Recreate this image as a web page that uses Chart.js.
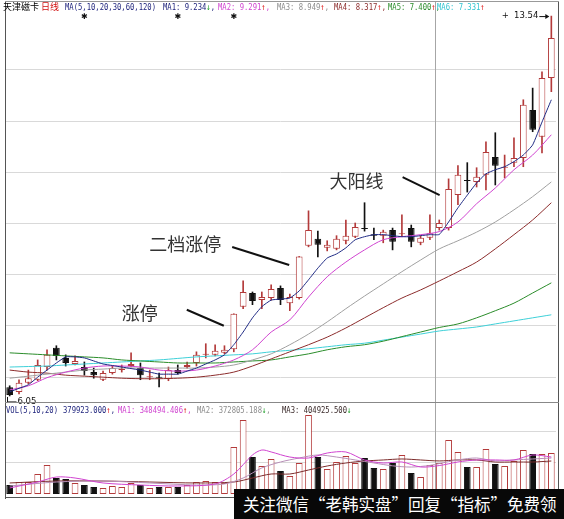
<!DOCTYPE html>
<html>
<head>
<meta charset="utf-8">
<script src="https://cdn.jsdelivr.net/npm/chart.js@4.4.1/dist/chart.umd.min.js"></script>
<style>
  html, body { margin: 0; padding: 0; background: #fff; }
  #wrap { position: relative; width: 564px; height: 519px; overflow: hidden; background: #fff; }
  canvas { position: absolute; left: 5px; }
  #main { top: 0; width: 554px; height: 408px; }
  #vol { top: 402px; width: 554px; height: 98px; }
  .ln { position: absolute; background: #555; }
  .hd { position: absolute; font: 9px "DejaVu Sans Mono", monospace; line-height: 9px;
        white-space: nowrap; transform: scaleX(0.8); transform-origin: 0 0; }
  .cj { position: absolute; font: 9px "Noto Sans CJK SC", sans-serif; line-height: 10px; white-space: nowrap; }
  #wm { position: absolute; left: 234px; top: 489px; width: 330px; height: 30px; background: #080808;
        color: #fff; font: 16.5px "Noto Sans CJK SC", sans-serif; line-height: 30px; padding-left: 9px;
        box-sizing: border-box; white-space: nowrap; }
</style>
</head>
<body>
<div id="wrap">
  <canvas id="main" width="554" height="408"></canvas>
  <canvas id="vol" width="554" height="98"></canvas>
  <div class="ln" style="left:5px;top:1px;width:1px;height:498px"></div>
  <div class="ln" style="left:558px;top:1px;width:1px;height:498px"></div>
  <div class="ln" style="left:5px;top:1px;width:554px;height:1px;background:#999"></div>
  <div class="ln" style="left:5px;top:402px;width:554px;height:1px;background:#888"></div>
  <div class="ln" style="left:5px;top:497px;width:554px;height:1px"></div>
  <div id="hdr"></div>
  <div id="wm">关注微信“老韩实盘”回复“指标”免费领</div>
</div>
<script>
// ---- daily prices (天津磁卡, 日线) ----
const open = [6.22,6.13,6.31,6.37,6.62,7.00,6.80,6.68,6.62,6.52,
  6.37,6.50,6.56,6.64,6.60,6.42,6.43,6.39,6.56,6.62,
  6.70,6.86,6.86,6.90,6.97,7.81,8.08,7.94,7.98,8.18,
  7.88,7.98,9.01,9.15,8.97,8.95,9.11,9.19,9.36,9.24,
  9.21,9.32,9.24,9.36,9.07,9.17,9.36,9.36,10.01,10.31,
  10.27,10.41,10.76,10.55,10.65,10.74,11.69,11.16,12.32];
const high = [6.25,6.37,6.56,6.76,6.96,7.04,6.86,6.84,6.72,6.60,
  6.54,6.64,6.66,6.90,6.70,6.56,6.50,6.62,6.66,6.72,
  6.92,7.08,7.06,7.04,7.67,8.32,8.10,8.10,8.24,8.22,
  8.06,8.80,9.70,9.30,9.11,9.21,9.52,9.46,9.86,9.36,
  9.32,9.36,9.62,9.42,9.21,9.62,9.52,10.33,10.59,10.65,
  10.55,11.06,11.24,10.80,11.14,11.89,12.12,12.44,13.54];
const low = [6.05,6.09,6.29,6.35,6.56,6.76,6.64,6.66,6.46,6.40,
  6.35,6.48,6.52,6.62,6.37,6.37,6.23,6.35,6.48,6.60,
  6.64,6.80,6.84,6.88,6.92,7.77,7.85,7.77,7.94,7.85,
  7.73,7.96,8.99,8.79,8.91,8.93,9.05,9.17,9.30,9.13,
  9.07,8.93,9.19,8.99,9.03,9.13,9.32,9.32,9.82,10.07,
  10.17,10.11,10.21,10.35,10.57,10.57,11.26,10.84,12.05];
const close = [6.07,6.31,6.40,6.66,6.86,6.84,6.70,6.74,6.54,6.46,
  6.50,6.60,6.58,6.68,6.46,6.44,6.41,6.56,6.50,6.66,
  6.86,6.88,6.94,6.96,7.67,8.10,7.92,8.00,8.16,7.94,
  8.00,8.80,9.32,9.03,9.03,9.15,9.21,9.38,9.34,9.21,
  9.29,9.09,9.26,9.09,9.17,9.26,9.46,10.13,10.41,10.29,
  10.37,10.86,10.59,10.57,10.74,11.79,11.30,12.32,13.11];
const volume = [110000,147000,147000,245000,355000,196000,184000,135000,110000,86000,
  74000,98000,86000,135000,110000,74000,86000,86000,86000,110000,
  147000,159000,147000,135000,576000,907000,453000,343000,429000,282000,
  221000,380000,968000,453000,306000,392000,466000,380000,441000,319000,
  306000,380000,478000,257000,208000,355000,379923,662000,515000,331000,
  331000,551000,368000,343000,404000,539000,490000,490000,502000];

const days = open.map((_, i) => String(i + 1));

// ---- moving averages ----
const ma5 = [6.13,6.20,6.27,6.42,6.56,6.70,6.82,6.82,6.80,6.74,
  6.68,6.65,6.62,6.59,6.56,6.52,6.48,6.48,6.48,6.54,
  6.60,6.68,6.76,6.86,7.06,7.31,7.59,7.81,7.94,7.96,
  7.98,8.12,8.34,8.57,8.77,8.85,8.97,9.13,9.19,9.23,
  9.23,9.21,9.19,9.19,9.21,9.23,9.234,9.48,9.76,10.01,
  10.25,10.43,10.51,10.57,10.67,10.80,11.00,11.45,11.89];
const evenDays = [0,2,4,6,8,10,12,14,16,18,20,22,24,26,28,30,32,34,36,38,40,42,44,46,48,50,52,54,56,58];
const ma10 = [6.17,6.25,6.41,6.52,6.60,6.64,6.64,6.62,6.56,6.54,6.56,6.64,6.76,6.96,7.31,7.55,8.00,8.40,8.69,8.93,9.13,9.19,9.23,9.291,9.48,9.84,10.15,10.51,10.80,11.20];
const ma20 = [6.40,6.44,6.48,6.52,6.56,6.58,6.60,6.60,6.60,6.60,6.60,6.62,6.66,6.76,6.88,7.06,7.27,7.51,7.77,8.02,8.26,8.50,8.73,8.949,9.11,9.28,9.48,9.72,9.98,10.27];
const ma30 = [6.56,6.52,6.50,6.46,6.44,6.42,6.40,6.39,6.39,6.40,6.42,6.46,6.52,6.64,6.78,6.92,7.06,7.21,7.39,7.59,7.79,7.98,8.14,8.317,8.50,8.69,8.95,9.23,9.52,9.86];
const ma60 = [6.90,6.88,6.86,6.84,6.82,6.80,6.76,6.74,6.72,6.70,6.70,6.70,6.72,6.74,6.76,6.82,6.88,6.96,7.02,7.06,7.13,7.22,7.31,7.400,7.47,7.59,7.73,7.88,8.08,8.28];
const ma120 = [6.62,6.63,6.64,6.66,6.68,6.70,6.72,6.74,6.76,6.79,6.82,6.84,6.86,6.88,6.92,6.95,6.98,7.02,7.06,7.09,7.15,7.21,7.27,7.331,7.37,7.41,7.47,7.53,7.59,7.65];
const maTrend = ['↓','↑','↑','↑','↑','↑'];

// ---- volume averages ----
const volMa5Days = [0,3,5,7,10,14,18,22,24,26,27,28,30,32,34,36,38,40,42,44,46,48,50,52,54,56,58];
const volMa5 = [74000,147000,208000,196000,135000,110000,98000,123000,245000,478000,539000,515000,453000,441000,502000,515000,417000,380000,392000,331000,348494.406,392000,417000,417000,417000,478000,453000];
const volMa10Days = [0,5,10,15,20,23,25,27,29,31,33,35,37,39,41,43,45,46,48,50,52,54,56,58];
const volMa10 = [98000,147000,159000,135000,110000,123000,196000,319000,392000,441000,478000,453000,417000,380000,345000,330000,350000,372805.188,417000,441000,404000,417000,429000,441000];
const volMa20Days = [0,5,10,15,20,24,26,28,30,32,34,36,38,40,42,44,46,48,50,52,54,56,58];
const volMa20 = [135000,159000,159000,147000,135000,147000,196000,245000,245000,294000,343000,380000,404000,417000,429000,417000,404925.5,417000,417000,392000,392000,392000,404000];
const volTrend = ['↑','↑','↓','↓'];

// ---- chart furniture ----
const cursorDay = 46;
const markerDays = [8, 18, 24];
const priceGrid = [6.42, 7.43, 8.44, 9.45, 10.46, 11.47, 12.48];
const volGrid = [380000, 760000];
const notes = [
  { day: 24, text: '涨停', end: [-10, 12], start: [-47, -4], label: [-112, -1] },
  { day: 31, text: '二档涨停', end: [-10, 8.5], start: [-67, -9.5], label: [-150, -12.5] },
  { day: 47, text: '大阳线', end: [-9, 6], start: [-46, -12], label: [-119, -8] }
];

const UP = '#b33a3a', DOWN = '#111111';
const isUp = days.map((_, i) => close[i] >= open[i]);
const C = { ma5: '#1f2a84', ma10: '#d044d0', ma20: '#a0a0a0', ma30: '#8c2c2c', ma60: '#2a8c2a', ma120: '#3ed0d8' };

const pts = (ds, vals) => ds.map((d, k) => ({ x: days[d], y: vals[k] }));
const lineDs = (label, data, color, tension) => ({
  type: 'line', label, data, borderColor: color, borderWidth: 1, pointRadius: 0,
  tension: tension, fill: false, order: 0
});

// ---- header text ----
const hdr = document.getElementById('hdr');
function put(cls, left, top, parts) {
  const d = document.createElement('div');
  d.className = cls; d.style.left = left + 'px'; d.style.top = top + 'px';
  parts.forEach(([t, c]) => { const s = document.createElement('span'); s.textContent = t; s.style.color = c; d.appendChild(s); });
  hdr.appendChild(d);
}
const arrowColor = a => (a === '↑' ? '#e02020' : '#1fa02a');
put('cj', 3, 2, [['天津磁卡', '#000']]);
put('cj', 41, 2, [['日线', '#d01010']]);
put('hd', 65, 3, [['MA(5,10,20,30,60,120)', '#1a1f7a']]);
const maSet = [
  ['MA1', ma5[cursorDay], C.ma5 === '#1f2a84' ? '#1a1f7a' : C.ma5],
  ['MA2', ma10[evenDays.indexOf(cursorDay)], C.ma10],
  ['MA3', ma20[evenDays.indexOf(cursorDay)], '#8c8c8c'],
  ['MA4', ma30[evenDays.indexOf(cursorDay)], C.ma30],
  ['MA5', ma60[evenDays.indexOf(cursorDay)], C.ma60],
  ['MA6', ma120[evenDays.indexOf(cursorDay)], '#30c4d0']
];
const maLeft = [163, 218, 277, 334, 388, 437];
maSet.forEach(([n, v, c], k) => {
  put('hd', maLeft[k], 3, [[n + ': ' + v.toFixed(3), c], [maTrend[k], arrowColor(maTrend[k])], [k < 5 ? ',' : '', c]]);
});
const vTop = 406;
put('hd', 6, vTop, [['VOL(5,10,20)', '#1a1f7a']]);
put('hd', 63, vTop, [[volume[cursorDay].toFixed(3), '#1a1f7a'], [volTrend[0], arrowColor(volTrend[0])], [',', '#1a1f7a']]);
put('hd', 118, vTop, [['MA1: ' + volMa5[volMa5Days.indexOf(cursorDay)].toFixed(3), '#d044d0'], [volTrend[1], arrowColor(volTrend[1])], [',', '#d044d0']]);
put('hd', 197, vTop, [['MA2: ' + volMa10[volMa10Days.indexOf(cursorDay)].toFixed(3), '#8c8c8c'], [volTrend[2], arrowColor(volTrend[2])], [',', '#8c8c8c']]);
put('hd', 282, vTop, [['MA3: ' + volMa20[volMa20Days.indexOf(cursorDay)].toFixed(3), '#3a2a2a'], [volTrend[3], arrowColor(volTrend[3])]]);

// ---- plugins ----
const cursorLine = {
  id: 'cursorLine',
  beforeDatasetsDraw(chart) {
    const { ctx, scales: { x } } = chart;
    const cx = Math.round(x.getPixelForValue(cursorDay) - 4) + 0.5;
    ctx.save();
    ctx.strokeStyle = '#a6a6a6'; ctx.lineWidth = 1;
    ctx.beginPath(); ctx.moveTo(cx, 2); ctx.lineTo(cx, chart.height); ctx.stroke();
    ctx.restore();
  }
};

const priceMarks = {
  id: 'priceMarks',
  afterDatasetsDraw(chart) {
    const { ctx, scales: { x, y } } = chart;
    ctx.save();
    ctx.fillStyle = '#111'; ctx.strokeStyle = '#111'; ctx.lineWidth = 1;
    ctx.textBaseline = 'middle';
    // event markers along the top
    ctx.font = '8px "DejaVu Sans"'; ctx.textAlign = 'center';
    markerDays.forEach(d => ctx.fillText('✱', x.getPixelForValue(d), 17));
    // lowest low
    const lo = Math.min(...low), li = low.indexOf(lo);
    const lx = Math.round(x.getPixelForValue(li) - 3) + 0.5, ly = y.getPixelForValue(lo);
    ctx.beginPath(); ctx.moveTo(lx, ly + 1); ctx.lineTo(lx, ly + 6); ctx.lineTo(lx + 9, ly + 6); ctx.stroke();
    ctx.font = '8.5px "DejaVu Sans"'; ctx.textAlign = 'left';
    ctx.fillText(lo.toFixed(2), lx + 10, ly + 6);
    // highest high
    const hi = Math.max(...high), hiIdx = high.indexOf(hi);
    const hx = x.getPixelForValue(hiIdx), hy = y.getPixelForValue(hi);
    ctx.textAlign = 'right';
    ctx.fillText(hi.toFixed(2), hx - 13, hy);
    ctx.textAlign = 'center';
    ctx.fillText('+', hx - 46, hy);
    ctx.beginPath(); ctx.moveTo(hx - 12, hy + 0.5); ctx.lineTo(hx - 3, hy + 0.5); ctx.stroke();
    ctx.beginPath(); ctx.moveTo(hx - 2, hy + 0.5); ctx.lineTo(hx - 6, hy - 2); ctx.lineTo(hx - 6, hy + 3); ctx.closePath(); ctx.fill();
    // annotations
    notes.forEach(n => {
      const bx = x.getPixelForValue(n.day), by = y.getPixelForValue(Math.max(open[n.day], close[n.day]));
      ctx.strokeStyle = '#111'; ctx.lineWidth = 2;
      ctx.beginPath(); ctx.moveTo(bx + n.start[0], by + n.start[1]); ctx.lineTo(bx + n.end[0], by + n.end[1]); ctx.stroke();
      ctx.fillStyle = '#333'; ctx.font = '18px "Noto Sans CJK SC"'; ctx.textAlign = 'left';
      ctx.fillText(n.text, bx + n.label[0], by + n.label[1]);
    });
    ctx.restore();
  }
};

const baseScales = (yMin, yMax, grid) => ({
  x: {
    type: 'category', offset: true,
    grid: { display: false }, border: { display: false }, ticks: { display: false },
    afterFit(s) { s.height = 0; }
  },
  y: {
    min: yMin, max: yMax,
    grid: { color: '#d9d9d9', lineWidth: 1, drawTicks: false }, border: { display: false },
    ticks: { display: false },
    afterBuildTicks(s) { s.ticks = grid.map(v => ({ value: v })); },
    afterFit(s) { s.width = 0; }
  }
});

const common = {
  responsive: false, animation: false, events: [],
  plugins: { legend: { display: false }, tooltip: { enabled: false } }
};

// ---- price panel ----
new Chart(document.getElementById('main'), {
  type: 'bar',
  data: {
    labels: days,
    datasets: [
      lineDs('MA5', ma5, C.ma5, 0.15),
      lineDs('MA10', pts(evenDays, ma10), C.ma10, 0.3),
      lineDs('MA20', pts(evenDays, ma20), C.ma20, 0.3),
      lineDs('MA30', pts(evenDays, ma30), C.ma30, 0.3),
      lineDs('MA60', pts(evenDays, ma60), C.ma60, 0.3),
      lineDs('MA120', pts(evenDays, ma120), C.ma120, 0.3),
      {
        type: 'bar', label: 'body', data: days.map((_, i) => [open[i], close[i]]),
        backgroundColor: isUp.map(u => (u ? '#ffffff' : DOWN)),
        borderColor: isUp.map(u => (u ? UP : DOWN)),
        borderWidth: 1, borderSkipped: false, grouped: false,
        barPercentage: 0.72, categoryPercentage: 1, order: 1
      },
      {
        type: 'bar', label: 'wick', data: days.map((_, i) => [low[i], high[i]]),
        backgroundColor: isUp.map(u => (u ? UP : DOWN)),
        barThickness: 1, grouped: false, order: 2
      }
    ]
  },
  options: Object.assign({}, common, {
    layout: { padding: { top: 10, bottom: 8, left: 0, right: 3 } },
    scales: baseScales(5.97, 13.66, priceGrid)
  }),
  plugins: [cursorLine, priceMarks]
});

// ---- volume panel ----
new Chart(document.getElementById('vol'), {
  type: 'bar',
  data: {
    labels: days,
    datasets: [
      lineDs('VMA5', pts(volMa5Days, volMa5), '#d044d0', 0.3),
      lineDs('VMA10', pts(volMa10Days, volMa10), '#b890b8', 0.3),
      lineDs('VMA20', pts(volMa20Days, volMa20), '#7c2c2c', 0.3),
      {
        type: 'bar', label: 'VOL', data: volume,
        backgroundColor: isUp.map(u => (u ? '#ffffff' : DOWN)),
        borderColor: isUp.map(u => (u ? UP : DOWN)),
        borderWidth: 1, borderSkipped: false, grouped: false,
        barPercentage: 0.72, categoryPercentage: 1, order: 1
      }
    ]
  },
  options: Object.assign({}, common, {
    layout: { padding: { top: 0, bottom: 6, left: 0, right: 3 } },
    scales: baseScales(0, 1127000, volGrid)
  }),
  plugins: [cursorLine]
});
</script>
</body>
</html>
